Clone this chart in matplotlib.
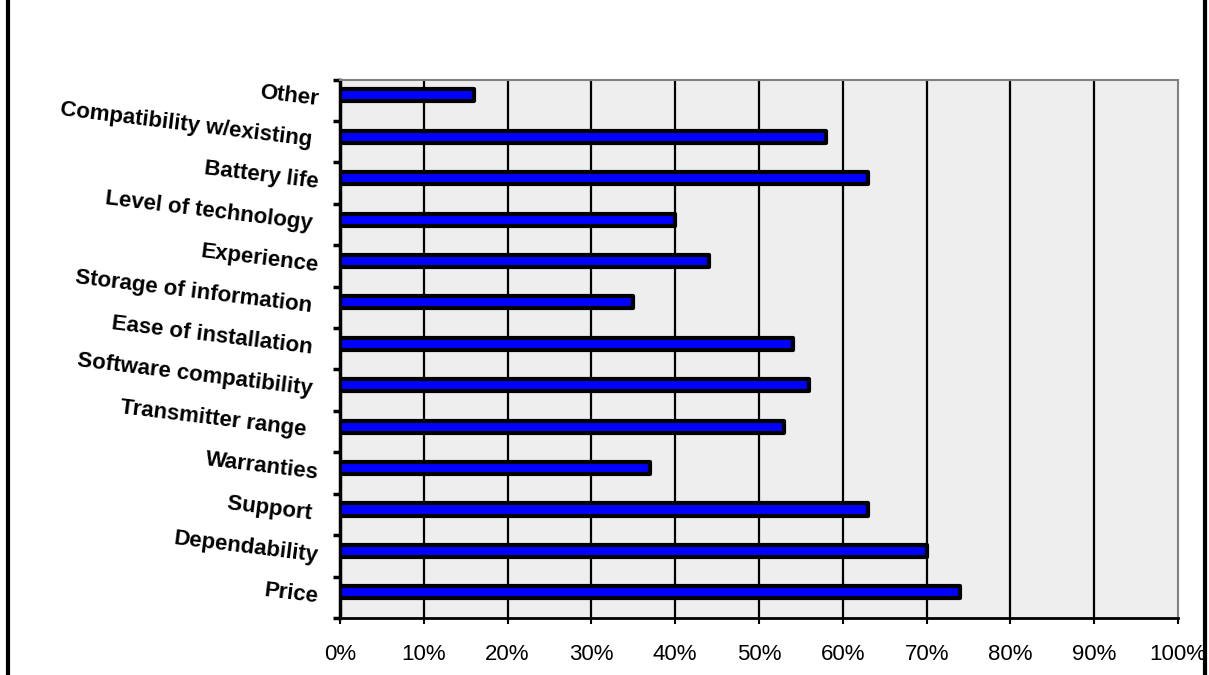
import numpy as np
import matplotlib
matplotlib.use("Agg")
import matplotlib.pyplot as plt
from matplotlib.lines import Line2D

plt.rcParams['font.family'] = ['Liberation Sans', 'DejaVu Sans']

# categories from bottom to top (trailing spaces as in the original labels)
categories = ["Price", "Dependability", "Support ", "Warranties", "Transmitter range  ",
              "Software compatibility ", "Ease of installation ", "Storage of information ",
              "Experience", "Level of technology ", "Battery life", "Compatibility w/existing ",
              "Other"]
values = [74, 70, 63, 37, 53, 56, 54, 35, 44, 40, 63, 58, 16]
xticks = [0, 10, 20, 30, 40, 50, 60, 70, 80, 90, 100]

fig = plt.figure(figsize=(12.09, 6.75), dpi=100)
ax = fig.add_axes([0.2812, 0.0844, 0.9744 - 0.2812, 0.8822 - 0.0844])
ax.set_facecolor("#eeeeee")

n = len(categories)
ypos = np.arange(n) + 0.12   # bars sit a little above the category centre
ax.barh(ypos, values, height=0.29, color="#0000ff", edgecolor="black",
        linewidth=3, joinstyle="round", zorder=3)

ax.set_xlim(0, 100)
ax.set_ylim(-0.5, n - 0.5)

# x axis
ax.set_xticks(xticks)
ax.set_xticklabels([f"{v}%" for v in xticks], fontsize=16)
ax.tick_params(axis="x", direction="out", length=4, width=1.5, pad=15)
for v in xticks[1:-1]:
    ax.axvline(v, color="black", linewidth=1.6, zorder=1)

# y axis: ticks at category boundaries, labels drawn rotated
ax.set_yticks(np.arange(n + 1) - 0.5)
ax.set_yticklabels([])
ax.tick_params(axis="y", direction="out", length=5, width=2.5)
for i, lab in enumerate(categories):
    ax.text(-0.026, i, lab, transform=ax.get_yaxis_transform(), ha="right", va="center",
            rotation=-7, rotation_mode="anchor", fontsize=16, fontweight="bold")

ax.spines["left"].set_linewidth(2.5)
ax.spines["bottom"].set_linewidth(2)
ax.spines["left"].set_color("black")
ax.spines["bottom"].set_color("black")
ax.spines["top"].set_color("#808080")
ax.spines["right"].set_color("#808080")
ax.spines["top"].set_linewidth(1.5)
ax.spines["right"].set_linewidth(1.5)

# frame lines of the slide
fig.add_artist(Line2D([0.0066, 0.0066], [0, 1], color="black", linewidth=3, transform=fig.transFigure))
fig.add_artist(Line2D([0.9967, 0.9967], [0, 1], color="black", linewidth=3, transform=fig.transFigure))

fig.savefig("out.png", dpi=100)
